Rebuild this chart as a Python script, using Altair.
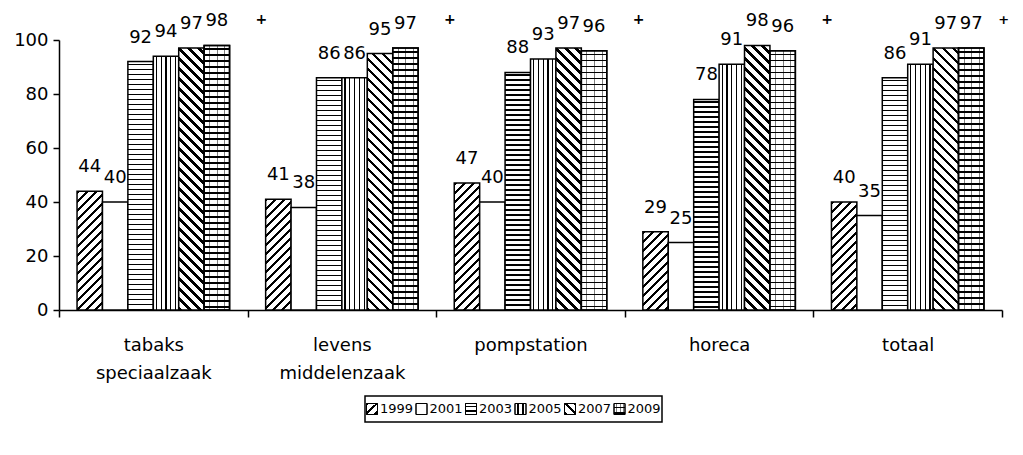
import altair as alt

# ---------------- data ----------------
categories = ["tabaks speciaalzaak", "levens middelenzaak", "pompstation", "horeca", "totaal"]
years = ["1999", "2001", "2003", "2005", "2007", "2009"]
v1999 = [44, 41, 47, 29, 40]
v2001 = [40, 38, 40, 25, 35]
v2003 = [92, 86, 88, 78, 86]
v2005 = [94, 86, 93, 91, 91]
v2007 = [97, 95, 97, 98, 97]
v2009 = [98, 97, 96, 96, 97]
y_ticks = [0, 20, 40, 60, 80, 100]
plus_marks = ["+", "+", "+", "+", "+"]

series = {"1999": v1999, "2001": v2001, "2003": v2003,
          "2005": v2005, "2007": v2007, "2009": v2009}

# ---------------- style ----------------
FONT = "DejaVu Sans"
PLOT_W, PLOT_H = 943, 270
OFFSET_PAD = 0.71
BAR_W = PLOT_W / len(categories) / (len(years) + 2 * OFFSET_PAD)
pattern_of = {"1999": "diag_up", "2001": "none", "2003": "hlines",
              "2005": "vlines", "2007": "diag_down", "2009": "brick"}
LEG_X = [306, 603]      # legend box, px from plot left
LEG_Y = [356, 382]      # legend box, px from plot top
LEG_STEP = (LEG_X[1] - LEG_X[0]) / len(years)
SW = 11                 # legend swatch side
SW_CX = 7               # swatch centre from entry start
TXT_X = 15              # legend text start from entry start


def stripe_stops(length, period, thick, fg="black", bg="white", start=0.0):
    s = [{"offset": 0, "color": bg}]
    pos = start
    while pos < length:
        a = round(max(pos, 0) / length, 5)
        b = round(min(pos + thick, length) / length, 5)
        if b > a:
            s += [{"offset": a, "color": bg}, {"offset": a, "color": fg},
                  {"offset": b, "color": fg}, {"offset": b, "color": bg}]
        pos += period
    s.append({"offset": 1, "color": bg})
    return s


def make_fill(kind, w, h):
    if kind == "none" or h <= 0:
        return "white"
    if kind == "hlines":
        return {"gradient": "linear", "x1": 0, "y1": 0, "x2": 0, "y2": 1,
                "stops": stripe_stops(h, 5.0, 1.5, start=2.0)}
    if kind == "brick":
        return {"gradient": "linear", "x1": 0, "y1": 0, "x2": 0, "y2": 1,
                "stops": stripe_stops(h, 6.0, 1.5, start=3.0)}
    if kind == "vlines":
        return {"gradient": "linear", "x1": 0, "y1": 0, "x2": 1, "y2": 0,
                "stops": stripe_stops(w, 4.8, 1.2, start=2.5)}
    L = w + h
    c = (w + h) / (w * w + h * h)
    if kind == "diag_up":
        return {"gradient": "linear", "x1": 0, "y1": 0, "x2": c * w, "y2": c * h,
                "stops": stripe_stops(L, 9.0, 3.0)}
    if kind == "diag_down":
        return {"gradient": "linear", "x1": 0, "y1": 1, "x2": c * w, "y2": 1 - c * h,
                "stops": stripe_stops(L, 10.0, 3.6)}
    return "white"


def make_overlay(kind, w):
    if kind != "brick":
        return "transparent"
    return {"gradient": "linear", "x1": 0, "y1": 0, "x2": 1, "y2": 0,
            "stops": stripe_stops(w, w * 0.3, 1.0, fg="rgba(0,0,0,0.5)",
                                  bg="rgba(0,0,0,0)", start=w * 0.2)}


rows = []
for y in years:
    for cat, v in zip(categories, series[y]):
        h = v / 100 * PLOT_H
        rows.append({"cat": cat, "year": y, "value": v,
                     "fill": make_fill(pattern_of[y], BAR_W, h),
                     "fill2": make_overlay(pattern_of[y], BAR_W)})

plus_rows = [{"cat": c, "mark": m} for c, m in zip(categories, plus_marks)]

x_enc = alt.X("cat:N", sort=categories,
              scale=alt.Scale(domain=categories, paddingInner=0, paddingOuter=0),
              axis=alt.Axis(title=None, labelAngle=0, tickBand="extent", tickSize=7,
                            tickColor="black", tickWidth=1.5, domainColor="black",
                            domainWidth=1.5, labelFont=FONT, labelFontSize=18,
                            labelColor="black", labelPadding=19, labelLineHeight=28,
                            labelExpr="split(datum.label, ' ')"))
xo_enc = alt.XOffset("year:N", sort=years,
                     scale=alt.Scale(domain=years, paddingInner=0, paddingOuter=OFFSET_PAD))
y_enc = alt.Y("value:Q", scale=alt.Scale(domain=[0, 100], nice=False),
              axis=alt.Axis(title=None, values=y_ticks, grid=False, tickSize=6,
                            tickColor="black", tickWidth=1.5, domainColor="black",
                            domainWidth=1.5, labelFont=FONT, labelFontSize=18,
                            labelColor="black", labelPadding=5))

base = alt.Chart(alt.Data(values=rows))

bars = base.mark_bar(stroke="black", strokeWidth=1.5).encode(
    x=x_enc, xOffset=xo_enc, y=y_enc, fill=alt.Fill("fill:N", scale=None))

overlay = base.transform_filter(alt.datum.year == "2009").mark_bar(
    stroke="black", strokeWidth=1.5).encode(
    x=x_enc, xOffset=xo_enc, y=y_enc, fill=alt.Fill("fill2:N", scale=None))

labels = base.mark_text(dy=-19, baseline="alphabetic", font=FONT, fontSize=18,
                        color="black").encode(
    x=x_enc, xOffset=xo_enc, y=y_enc, text=alt.Text("value:Q"))

plus_base = alt.Chart(alt.Data(values=plus_rows))
plus_a = plus_base.transform_filter(alt.datum.cat != categories[-1]).mark_text(
    dx=108, baseline="middle", font=FONT, fontSize=14, fontWeight="bold",
    color="black").encode(x=x_enc, y=alt.value(-20), text="mark:N")
plus_b = plus_base.transform_filter(alt.datum.cat == categories[-1]).mark_text(
    dx=96, baseline="middle", font=FONT, fontSize=13,
    fontWeight="bold", color="black").encode(x=x_enc, y=alt.value(-20), text="mark:N")

main = alt.layer(bars, overlay, labels, plus_a, plus_b)

# ---------------- legend ----------------
leg_rows = [{"year": y, "fill": make_fill(pattern_of[y], SW, SW),
             "fill2": make_overlay(pattern_of[y], SW)} for y in years]
leg_mid = (LEG_Y[0] + LEG_Y[1]) / 2
sq_shift = SW_CX - LEG_STEP / 2
sq_scale = alt.Scale(domain=years, range=[LEG_X[0] + sq_shift, LEG_X[1] + sq_shift],
                     paddingInner=0, paddingOuter=0)
txt_scale = alt.Scale(domain=years, range=LEG_X, paddingInner=0, paddingOuter=0)
leg_base = alt.Chart(alt.Data(values=leg_rows))
leg_frame = alt.Chart(alt.Data(values=[{"k": 1}])).mark_rect(
    fill="white", stroke="black", strokeWidth=1.5).encode(
    x=alt.value(LEG_X[0]), x2=alt.value(LEG_X[1]),
    y=alt.value(LEG_Y[0]), y2=alt.value(LEG_Y[1]))
sq_x = alt.X("year:N", sort=years, axis=None, scale=sq_scale)
leg_sq = leg_base.mark_square(size=SW * SW, stroke="black", strokeWidth=1,
                              opacity=1).encode(
    x=sq_x, y=alt.value(leg_mid), fill=alt.Fill("fill:N", scale=None))
leg_sq2 = leg_base.mark_square(size=SW * SW, stroke="black", strokeWidth=1,
                               opacity=1).encode(
    x=sq_x, y=alt.value(leg_mid), fill=alt.Fill("fill2:N", scale=None))
leg_swatches = alt.layer(leg_sq, leg_sq2)
leg_txt = leg_base.mark_text(align="left", baseline="middle", font=FONT,
                             fontSize=13, color="black",
                             dx=TXT_X - LEG_STEP / 2).encode(
    x=alt.X("year:N", sort=years, axis=None, scale=txt_scale),
    y=alt.value(leg_mid), text="year:N")
legend = alt.layer(leg_frame, leg_swatches, leg_txt).resolve_scale(x="independent")

chart = alt.layer(main, legend).resolve_scale(x="independent").properties(
    width=PLOT_W, height=PLOT_H,
    padding={"left": 5, "top": 4, "right": 0, "bottom": 0}
).configure_view(stroke="transparent")

chart.save("out.html", embed_options={"renderer": "svg", "actions": False})
